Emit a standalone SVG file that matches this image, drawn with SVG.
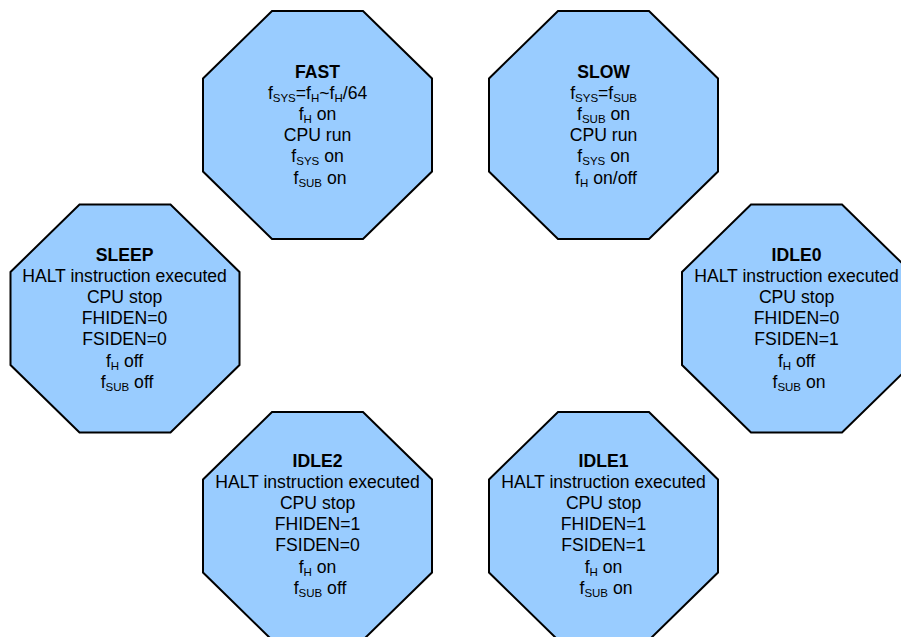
<svg xmlns="http://www.w3.org/2000/svg" xmlns:xlink="http://www.w3.org/1999/xlink" width="901" height="637" viewBox="0 0 901 637">
<style>
.oct{fill:#99CCFF;stroke:#000;stroke-width:2;stroke-linejoin:miter}
text{font-family:"Liberation Sans",Arial,sans-serif;font-size:17.6px;fill:#000;text-anchor:middle}
.t{font-weight:bold}
.s{font-size:11.5px}
</style>
<defs>
<polygon id="octa" class="oct" points="-45.5,-114 45.5,-114 114.5,-46.5 114.5,46.5 45.5,114 -45.5,114 -114.5,46.5 -114.5,-46.5"/>
</defs>
<rect width="901" height="637" fill="#fff"/>
<g id="connectors"></g>

<g id="FAST">
<use href="#octa" xlink:href="#octa" x="317.5" y="125"/>
<text>
<tspan class="t" x="320" y="78">FAST</tspan>
<tspan x="320" y="99.1">f<tspan class="s" dy="3">SYS</tspan><tspan dy="-3">=f</tspan><tspan class="s" dy="3">H</tspan><tspan dy="-3">~f</tspan><tspan class="s" dy="3">H</tspan><tspan dy="-3">/64</tspan></tspan>
<tspan x="320" y="120.2">f<tspan class="s" dy="3">H</tspan><tspan dy="-3"> on</tspan></tspan>
<tspan x="320" y="141.3">CPU run</tspan>
<tspan x="320" y="162.4">f<tspan class="s" dy="3">SYS</tspan><tspan dy="-3"> on</tspan></tspan>
<tspan x="320" y="183.5">f<tspan class="s" dy="3">SUB</tspan><tspan dy="-3"> on</tspan></tspan>
</text>
</g>

<g id="SLOW">
<use href="#octa" xlink:href="#octa" x="603.5" y="125"/>
<text>
<tspan class="t" x="606" y="78">SLOW</tspan>
<tspan x="606" y="99.1">f<tspan class="s" dy="3">SYS</tspan><tspan dy="-3">=f</tspan><tspan class="s" dy="3">SUB</tspan></tspan>
<tspan x="606" y="120.2">f<tspan class="s" dy="3">SUB</tspan><tspan dy="-3"> on</tspan></tspan>
<tspan x="606" y="141.3">CPU run</tspan>
<tspan x="606" y="162.4">f<tspan class="s" dy="3">SYS</tspan><tspan dy="-3"> on</tspan></tspan>
<tspan x="606" y="183.5">f<tspan class="s" dy="3">H</tspan><tspan dy="-3"> on/off</tspan></tspan>
</text>
</g>

<g id="SLEEP">
<use href="#octa" xlink:href="#octa" x="125" y="318.5"/>
<text>
<tspan class="t" x="127" y="261">SLEEP</tspan>
<tspan x="127" y="282.1">HALT instruction executed</tspan>
<tspan x="127" y="303.2">CPU stop</tspan>
<tspan x="127" y="324.3">FHIDEN=0</tspan>
<tspan x="127" y="345.4">FSIDEN=0</tspan>
<tspan x="127" y="366.5">f<tspan class="s" dy="3">H</tspan><tspan dy="-3"> off</tspan></tspan>
<tspan x="127" y="387.6">f<tspan class="s" dy="3">SUB</tspan><tspan dy="-3"> off</tspan></tspan>
</text>
</g>

<g id="IDLE0">
<use href="#octa" xlink:href="#octa" x="796.5" y="318.5"/>
<text>
<tspan class="t" x="799" y="261">IDLE0</tspan>
<tspan x="799" y="282.1">HALT instruction executed</tspan>
<tspan x="799" y="303.2">CPU stop</tspan>
<tspan x="799" y="324.3">FHIDEN=0</tspan>
<tspan x="799" y="345.4">FSIDEN=1</tspan>
<tspan x="799" y="366.5">f<tspan class="s" dy="3">H</tspan><tspan dy="-3"> off</tspan></tspan>
<tspan x="799" y="387.6">f<tspan class="s" dy="3">SUB</tspan><tspan dy="-3"> on</tspan></tspan>
</text>
</g>

<g id="IDLE2">
<use href="#octa" xlink:href="#octa" x="317.5" y="526"/>
<text>
<tspan class="t" x="320" y="467">IDLE2</tspan>
<tspan x="320" y="488.1">HALT instruction executed</tspan>
<tspan x="320" y="509.2">CPU stop</tspan>
<tspan x="320" y="530.3">FHIDEN=1</tspan>
<tspan x="320" y="551.4">FSIDEN=0</tspan>
<tspan x="320" y="572.5">f<tspan class="s" dy="3">H</tspan><tspan dy="-3"> on</tspan></tspan>
<tspan x="320" y="593.6">f<tspan class="s" dy="3">SUB</tspan><tspan dy="-3"> off</tspan></tspan>
</text>
</g>

<g id="IDLE1">
<use href="#octa" xlink:href="#octa" x="603.5" y="526"/>
<text>
<tspan class="t" x="606" y="467">IDLE1</tspan>
<tspan x="606" y="488.1">HALT instruction executed</tspan>
<tspan x="606" y="509.2">CPU stop</tspan>
<tspan x="606" y="530.3">FHIDEN=1</tspan>
<tspan x="606" y="551.4">FSIDEN=1</tspan>
<tspan x="606" y="572.5">f<tspan class="s" dy="3">H</tspan><tspan dy="-3"> on</tspan></tspan>
<tspan x="606" y="593.6">f<tspan class="s" dy="3">SUB</tspan><tspan dy="-3"> on</tspan></tspan>
</text>
</g>
</svg>
